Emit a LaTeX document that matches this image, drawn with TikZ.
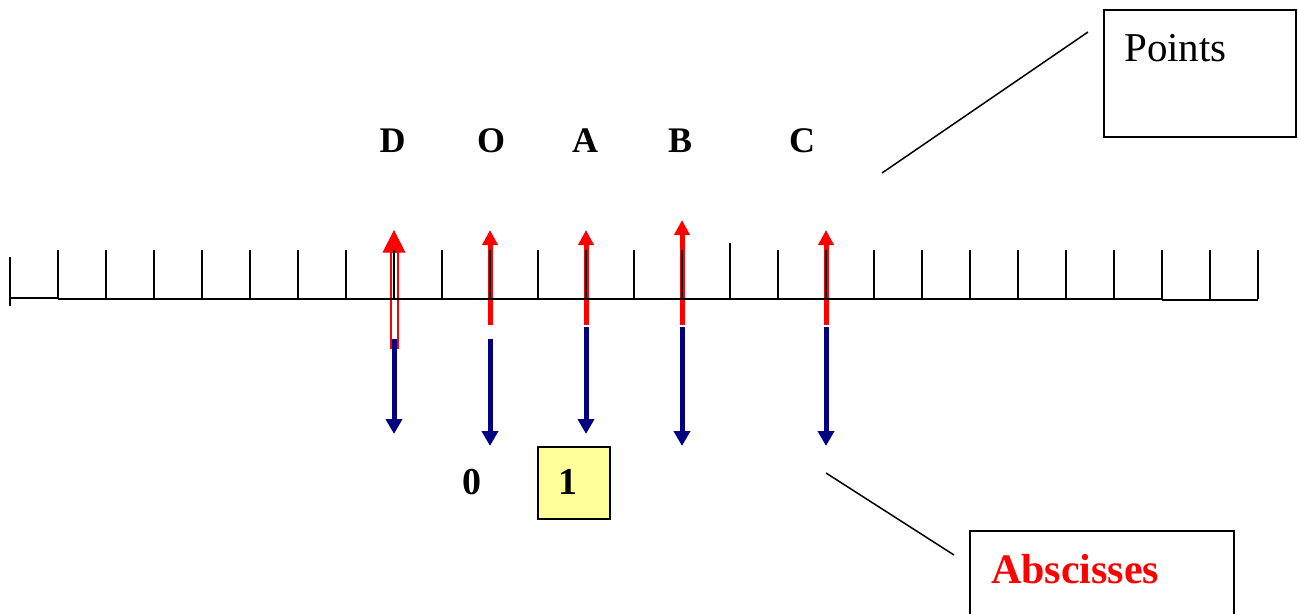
\documentclass[tikz,border=0pt]{standalone}
\usepackage{fontspec}
\setmainfont{Liberation Serif}
\usetikzlibrary{arrows.meta}
\definecolor{navy}{RGB}{0,0,128}
\definecolor{paleyellow}{RGB}{255,255,153}
\begin{document}
\begin{tikzpicture}[x=1pt,y=-1pt,
  axisline/.style={line width=1.8pt, black},
  axtick/.style={line width=1.8pt, black},
  redvec/.style={draw=red, line width=5pt, -{Triangle[width=15pt,length=15pt]}},
  bluevec/.style={draw=navy, line width=5pt, -{Triangle[width=16pt,length=15pt]}},
  ptlabel/.style={font=\fontsize{36}{40}\selectfont\bfseries, anchor=base, inner sep=0pt},
  numlabel/.style={font=\fontsize{38}{42}\selectfont\bfseries, anchor=base, inner sep=0pt},
  callout/.style={draw, line width=1.5pt, minimum width=0pt, inner sep=0pt},
  pointer/.style={line width=1.5pt, black}]
\useasboundingbox (0,0) rectangle (1298,613);
\clip (0,0) rectangle (1298,613);

% point names above the line
\node[ptlabel] (lD) at (392.5,152) {D};
\node[ptlabel] (lO) at (491,152) {O};
\node[ptlabel] (lA) at (585,152) {A};
\node[ptlabel] (lB) at (680,152) {B};
\node[ptlabel] (lC) at (802,152) {C};

% anchor points on the axis for each vector
\coordinate (pD) at (394,299);
\coordinate (pO) at (490,299);
\coordinate (pA) at (586,299);
\coordinate (pB) at (682,299);
\coordinate (pC) at (826,299);

% D: hollow red vector
\draw[red, line width=2pt] (390.5,252) rectangle (397.5,348);
\fill[red] (394,230) -- (382.5,252.5) -- (405.5,252.5) -- cycle;
\draw[bluevec] (394,339) -- (394,434);

% O, A, B, C: red upward, blue downward
\draw[redvec] (490,325) -- (490,230);
\draw[bluevec] (490,339) -- (490,446);
\draw[redvec] (586,325) -- (586,230);
\draw[bluevec] (586,327) -- (586,434);
\draw[redvec] (682,325) -- (682,220);
\draw[bluevec] (682,327) -- (682,446);
\draw[redvec] (826,325) -- (826,230);
\draw[bluevec] (826,327) -- (826,446);

% graduated line
\draw[axisline] (10,298) -- (58,298);
\draw[axisline] (58,299) -- (1162,299);
\draw[axisline] (1162,300) -- (1258,300);
\draw[axtick] (10,257) -- (10,306);
\foreach \x in {58,106,...,1258}{
  \draw[axtick] (\x,299) -- (\x,250);
}
\draw[axtick] (730,299) -- (730,243);

% abscissa labels
\node[numlabel] (n0) at (472,494) {0};
\node[draw, line width=1.5pt, fill=paleyellow, minimum width=72pt, minimum height=72pt, inner sep=0pt] (unitbox) at (574,483) {};
\node[numlabel] (n1) at (567.5,494) {1};

% callout boxes
\node[callout, minimum width=192pt, minimum height=127pt] (pbox) at (1200,73.5) {};
\node[font=\fontsize{41}{44}\selectfont, anchor=base west, inner sep=0pt] (ptext) at (1124,61) {Points};
\coordinate (pfrom) at (882,173);
\coordinate (pto) at (1088,32);
\draw[pointer] (pfrom) -- (pto);

\node[callout, minimum width=264pt, minimum height=120pt] (abox) at (1102,591) {};
\node[font=\fontsize{42}{46}\selectfont\bfseries, text=red, anchor=base west, inner sep=0pt] (atext) at (991,583) {Abscisses};
\coordinate (afrom) at (826,473);
\coordinate (ato) at (954,555);
\draw[pointer] (afrom) -- (ato);
\end{tikzpicture}
\end{document}
